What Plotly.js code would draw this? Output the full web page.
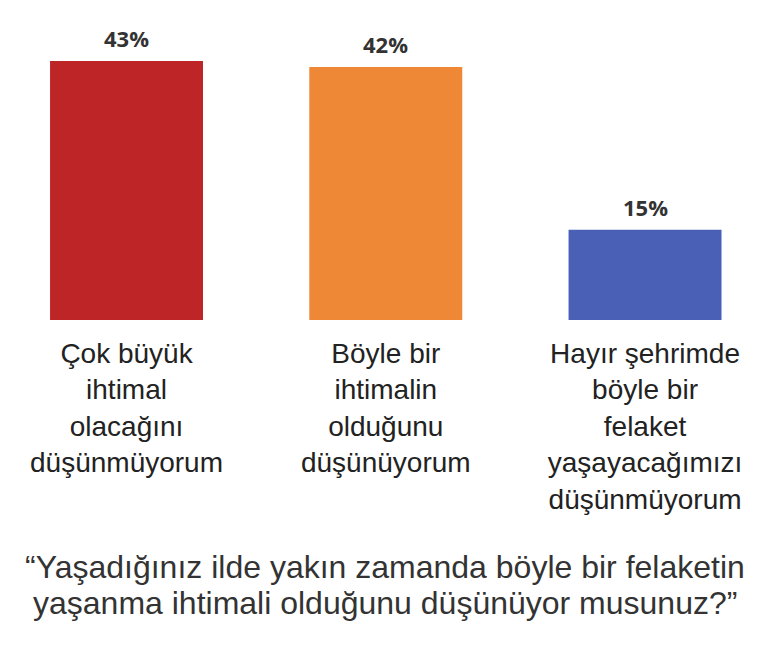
<!DOCTYPE html>
<html>
<head>
<meta charset="utf-8">
<script src="https://cdn.plot.ly/plotly-3.0.1.min.js"></script>
<style>
  html, body { margin: 0; padding: 0; background: #fff; }
  #chart { width: 770px; height: 657px; }
</style>
</head>
<body>
<div id="chart"></div>
<script>
// answers and share of respondents (%)
var categories = [
  "Çok büyük<br>ihtimal<br>olacağını<br>düşünmüyorum",
  "Böyle bir<br>ihtimalin<br>olduğunu<br>düşünüyorum",
  "Hayır şehrimde<br>böyle bir<br>felaket<br>yaşayacağımızı<br>düşünmüyorum"
];
var shares = [43, 42, 15];
var barColors = ["#BE2527", "#EE8836", "#4A5FB6"];
var questionLines = [
  "“Yaşadığınız ilde yakın zamanda böyle bir felaketin",
  "yaşanma ihtimali olduğunu düşünüyor musunuz?”"
];

var idx = categories.map(function (c, i) { return i; });

var trace = {
  type: 'bar',
  x: idx,
  y: shares,
  marker: { color: barColors },
  hoverinfo: 'y',
  showlegend: false
};

// value labels above the bars
var labels = shares.map(function (v, i) {
  return {
    x: i, y: v, xref: 'x', yref: 'y',
    text: v + '%',
    showarrow: false,
    yanchor: 'middle',
    yshift: 23,
    font: { family: 'Open Sans, sans-serif', size: 22, color: '#333', weight: 'bold' }
  };
});

// question under the chart, one annotation per line to keep the spacing tight
questionLines.forEach(function (line, i) {
  labels.push({
    x: 0.5, y: 0, xref: 'paper', yref: 'paper',
    xanchor: 'center', yanchor: 'middle',
    yshift: -247 - 36 * i,
    text: line,
    showarrow: false,
    font: { family: 'Liberation Sans, Arial, sans-serif', size: 32, color: '#333' }
  });
});

var layout = {
  width: 770,
  height: 657,
  margin: { l: 0, r: 0, t: 20, b: 337 },
  paper_bgcolor: '#fff',
  plot_bgcolor: '#fff',
  bargap: 0.41,
  xaxis: {
    range: [-0.488, 2.482],
    tickvals: idx,
    ticktext: categories,
    ticks: '',
    showline: false,
    showgrid: false,
    zeroline: false,
    tickangle: 0,
    ticklabelstandoff: 14,
    tickfont: { family: 'Liberation Sans, Arial, sans-serif', size: 28, color: '#222' }
  },
  yaxis: {
    range: [0, 49.8],
    visible: false,
    showgrid: false,
    zeroline: false
  },
  annotations: labels
};

Plotly.newPlot('chart', [trace], layout, { displayModeBar: false, staticPlot: true });
</script>
</body>
</html>
